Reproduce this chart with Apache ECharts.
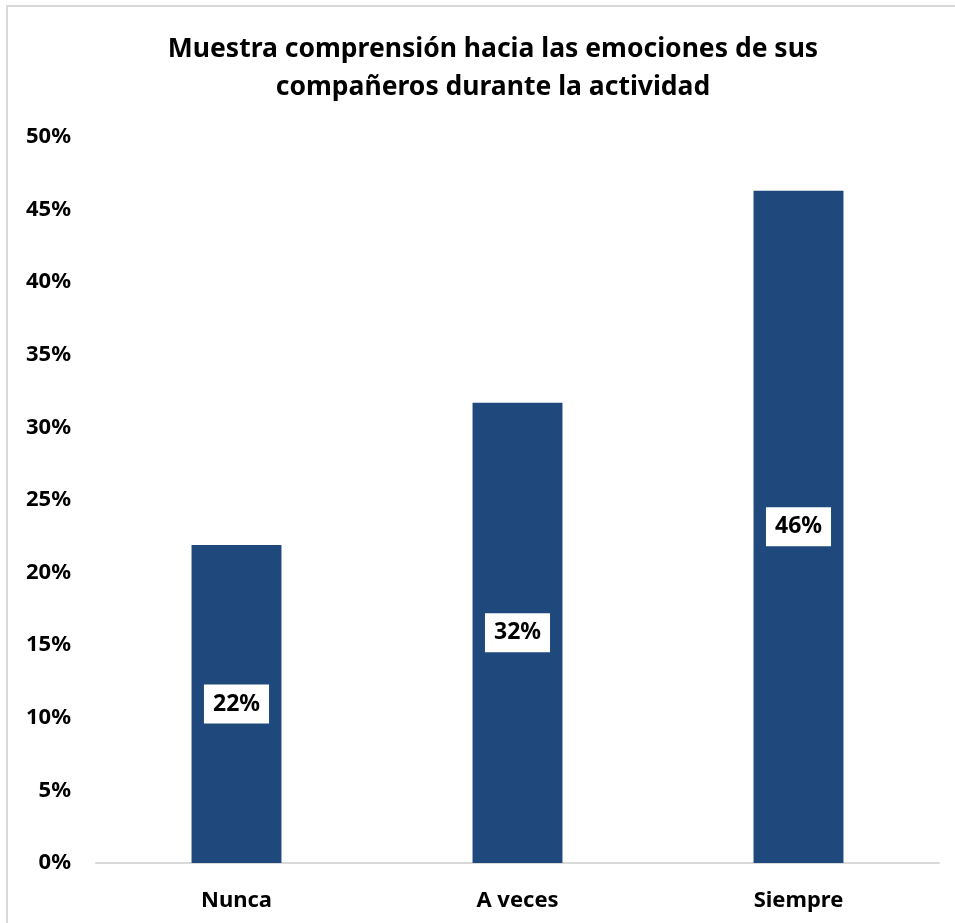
<!DOCTYPE html>
<html>
<head>
<meta charset="utf-8">
<script src="https://cdn.jsdelivr.net/npm/echarts@6/dist/echarts.min.js"></script>
<style>
  html, body { margin: 0; padding: 0; background: #fff; }
  #main { width: 955px; height: 923px; }
</style>
</head>
<body>
<div id="main"></div>
<script>
  // categorias y valores (en %)
  var categories = ['Nunca', 'A veces', 'Siempre'];
  var values = [21.9, 31.7, 46.3];
  var titleText = 'Muestra comprensión hacia las emociones de sus\ncompañeros durante la actividad';

  var font = '"Noto Sans", sans-serif';
  var myChart = echarts.init(document.getElementById('main'));

  var option = {
    backgroundColor: '#fff',
    animation: false,
    graphic: [{
      type: 'rect',
      shape: { x: 7, y: 6, width: 1000, height: 1000 },
      style: { fill: 'none', stroke: '#d9d9d9', lineWidth: 2 },
      silent: true
    }],
    title: {
      text: titleText,
      left: 488,
      top: 25,
      textAlign: 'center',
      textStyle: {
        fontFamily: font,
        fontWeight: 'bold',
        fontSize: 26.5,
        lineHeight: 38,
        color: '#000'
      }
    },
    grid: {
      left: 96,
      right: 16,
      top: 137,
      bottom: 60,
      containLabel: false
    },
    xAxis: {
      type: 'category',
      data: categories,
      axisLine: { lineStyle: { color: '#d9d9d9', width: 2 } },
      axisTick: { show: false },
      axisLabel: {
        margin: 27,
        fontFamily: font,
        fontWeight: 'bold',
        fontSize: 22,
        color: '#000'
      }
    },
    yAxis: {
      type: 'value',
      min: 0,
      max: 50,
      interval: 5,
      splitLine: { show: false },
      axisLine: { show: false },
      axisTick: { show: false },
      axisLabel: {
        formatter: '{value}%',
        margin: 25,
        fontFamily: font,
        fontWeight: 'bold',
        fontSize: 22,
        color: '#000'
      }
    },
    series: [{
      type: 'bar',
      data: values,
      barWidth: '32%',
      itemStyle: { color: '#1F497D' },
      label: {
        show: true,
        position: 'inside',
        formatter: function (p) { return Math.round(p.value) + '%'; },
        backgroundColor: '#fff',
        padding: [8, 9],
        fontFamily: font,
        fontWeight: 'bold',
        fontSize: 23,
        color: '#000'
      }
    }]
  };

  myChart.setOption(option);
</script>
</body>
</html>
